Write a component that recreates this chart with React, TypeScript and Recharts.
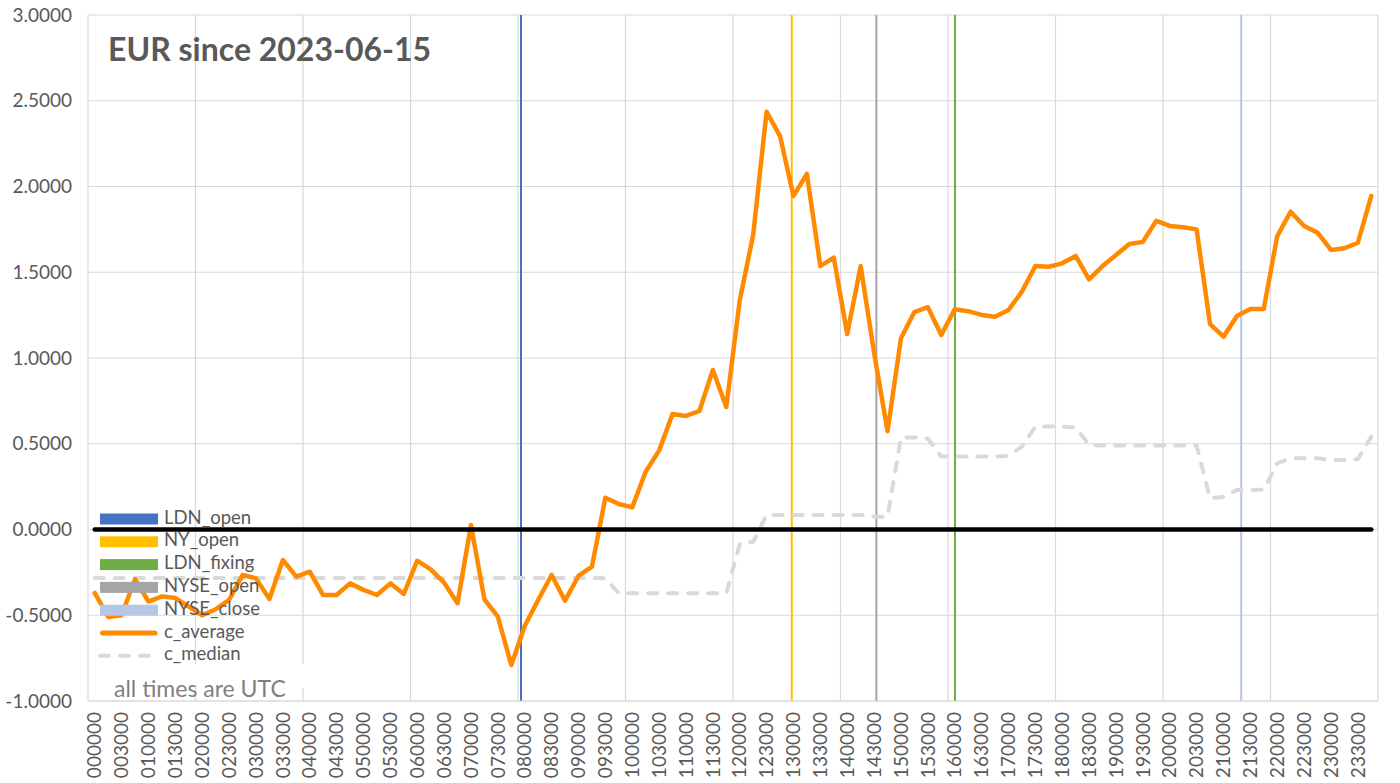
import React from 'react';
import { ComposedChart, Line, Bar, XAxis, YAxis, CartesianGrid, ReferenceLine } from 'recharts';

// 15-minute buckets, UTC
const times = [
  '000000', '001500', '003000', '004500', '010000', '011500', '013000', '014500',
  '020000', '021500', '023000', '024500', '030000', '031500', '033000', '034500',
  '040000', '041500', '043000', '044500', '050000', '051500', '053000', '054500',
  '060000', '061500', '063000', '064500', '070000', '071500', '073000', '074500',
  '080000', '081500', '083000', '084500', '090000', '091500', '093000', '094500',
  '100000', '101500', '103000', '104500', '110000', '111500', '113000', '114500',
  '120000', '121500', '123000', '124500', '130000', '131500', '133000', '134500',
  '140000', '141500', '143000', '144500', '150000', '151500', '153000', '154500',
  '160000', '161500', '163000', '164500', '170000', '171500', '173000', '174500',
  '180000', '181500', '183000', '184500', '190000', '191500', '193000', '194500',
  '200000', '201500', '203000', '204500', '210000', '211500', '213000', '214500',
  '220000', '221500', '223000', '224500', '230000', '231500', '233000', '234500',
];

const cAverage = [
  -0.37, -0.51, -0.5, -0.29, -0.42, -0.39, -0.4, -0.45,
  -0.5, -0.465, -0.41, -0.265, -0.285, -0.405, -0.178, -0.275,
  -0.246, -0.382, -0.382, -0.314, -0.352, -0.382, -0.314, -0.376,
  -0.182, -0.232, -0.31, -0.43, 0.026, -0.407, -0.508, -0.79,
  -0.563, -0.411, -0.265, -0.415, -0.271, -0.217, 0.185, 0.149,
  0.129, 0.337, 0.46, 0.673, 0.662, 0.691, 0.93, 0.714,
  1.335, 1.717, 2.436, 2.294, 1.945, 2.073, 1.536, 1.585,
  1.14, 1.536, 1.03, 0.573, 1.115, 1.268, 1.296, 1.134,
  1.284, 1.273, 1.251, 1.241, 1.28, 1.387, 1.536, 1.532,
  1.552, 1.595, 1.459, 1.536, 1.6, 1.665, 1.677, 1.8,
  1.77, 1.762, 1.75, 1.198, 1.124, 1.245, 1.286, 1.286,
  1.711, 1.853, 1.77, 1.731, 1.63, 1.64, 1.672, 1.945,
];

const cMedian = [
  -0.283, -0.283, -0.283, -0.283, -0.283, -0.283, -0.283, -0.283,
  -0.283, -0.283, -0.283, -0.283, -0.283, -0.283, -0.283, -0.283,
  -0.283, -0.283, -0.283, -0.283, -0.283, -0.283, -0.283, -0.283,
  -0.283, -0.283, -0.283, -0.283, -0.283, -0.283, -0.283, -0.283,
  -0.283, -0.283, -0.283, -0.283, -0.283, -0.283, -0.285, -0.372,
  -0.372, -0.372, -0.372, -0.372, -0.372, -0.372, -0.372, -0.372,
  -0.085, -0.072, 0.085, 0.085, 0.085, 0.085, 0.085, 0.085,
  0.085, 0.085, 0.075, 0.075, 0.537, 0.537, 0.53, 0.425,
  0.425, 0.425, 0.425, 0.425, 0.43, 0.483, 0.6, 0.6,
  0.6, 0.595, 0.493, 0.49, 0.49, 0.49, 0.49, 0.49,
  0.49, 0.49, 0.49, 0.182, 0.19, 0.23, 0.23, 0.233,
  0.386, 0.415, 0.415, 0.415, 0.405, 0.405, 0.41, 0.541,
];

const sessions = [
  { key: 'LDN_open', time: '080000', color: '#4472C4' },
  { key: 'NY_open', time: '130000', color: '#FFC000' },
  { key: 'LDN_fixing', time: '160000', color: '#70AD47' },
  { key: 'NYSE_open', time: '143000', color: '#A5A5A5' },
  { key: 'NYSE_close', time: '211500', color: '#B4C7E7' },
];

const yTicks = [-1, -0.5, 0, 0.5, 1, 1.5, 2, 2.5, 3];
const gridTicks = [0, 8, 16, 24, 32, 40, 48, 56, 64, 72, 80, 88, 96];

const Y_MIN = -1;
const Y_MAX = 3;
const FONT = 'Lato, "Open Sans", sans-serif';
const TEXT = '#595959';

const data = times.map((t, i) => {
  const row: Record<string, any> = { t, idx: i, c_average: cAverage[i], c_median: cMedian[i] };
  sessions.forEach((s) => {
    row[s.key] = s.time === t ? [Y_MIN, Y_MAX] : null;
  });
  return row;
});

const TimeTick = ({ x, y, payload }: any) => (
  <g transform={`translate(${x},${y})`}>
    <text
      transform="rotate(-90)"
      x={-11}
      y={0}
      dy="0.35em"
      textAnchor="end"
      fill={TEXT}
      fontSize={19}
      fontFamily={FONT}
    >
      {payload.value}
    </text>
  </g>
);

export default function App() {
  const legendRows = [
    ...sessions.map((s) => ({ label: s.key, kind: 'bar', color: s.color })),
    { label: 'c_average', kind: 'line', color: '#FF8A00' },
    { label: 'c_median', kind: 'dash', color: '#D9D9D9' },
  ];

  return (
    <div style={{ position: 'absolute', left: 0, top: 0, width: 1400, height: 783, background: '#fff' }}>
      <ComposedChart
        width={1400}
        height={783}
        data={data}
        margin={{ top: 15, right: 22, left: 0, bottom: 0 }}
        barGap={0}
      >
        <CartesianGrid xAxisId="grid" stroke="#D9D9D9" strokeWidth={1.2} />
        <XAxis
          dataKey="t"
          interval={1}
          tick={<TimeTick />}
          tickLine={false}
          tickSize={0}
          tickMargin={0}
          axisLine={{ stroke: '#D9D9D9' }}
          height={82}
        />
        <XAxis
          xAxisId="grid"
          dataKey="idx"
          type="number"
          domain={[0, 96]}
          ticks={gridTicks}
          allowDataOverflow
          hide
        />
        <YAxis
          domain={[Y_MIN, Y_MAX]}
          ticks={yTicks}
          tickFormatter={(v: number) => v.toFixed(4)}
          axisLine={false}
          tickLine={false}
          tickSize={0}
          tickMargin={16}
          width={88}
          tick={{ fill: TEXT, fontSize: 19, fontFamily: FONT }}
        />
        {sessions.map((s) => (
          <Bar key={s.key} dataKey={s.key} fill={s.color} barSize={2} isAnimationActive={false} />
        ))}
        <Line
          dataKey="c_median"
          stroke="#D9D9D9"
          strokeWidth={4}
          strokeDasharray="9 11"
          strokeLinecap="round"
          dot={false}
          activeDot={false}
          isAnimationActive={false}
        />
        <Line
          dataKey="c_average"
          stroke="#FF8A00"
          strokeWidth={4.5}
          strokeLinecap="round"
          strokeLinejoin="round"
          dot={false}
          activeDot={false}
          isAnimationActive={false}
        />
        <ReferenceLine
          segment={[{ x: times[0], y: 0 }, { x: times[times.length - 1], y: 0 }]}
          stroke="#000"
          strokeWidth={4.5}
          strokeLinecap="round"
        />
      </ComposedChart>

      <svg
        width={1400}
        height={783}
        style={{ position: 'absolute', left: 0, top: 0, pointerEvents: 'none' }}
      >
        <text x={108} y={61} fontFamily={FONT} fontWeight={700} fontSize={32} fill={TEXT}>
          EUR since 2023-06-15
        </text>
        <rect x={92} y={664} width={214} height={24} fill="#fff" />
        {legendRows.map((r, i) => {
          const cy = 519 + i * 22.8;
          return (
            <g key={r.label}>
              {r.kind === 'bar' && <rect x={100} y={cy - 5.5} width={58} height={11} fill={r.color} />}
              {r.kind === 'line' && (
                <line x1={102.5} x2={155} y1={cy} y2={cy} stroke={r.color} strokeWidth={5} strokeLinecap="round" />
              )}
              {r.kind === 'dash' && (
                <line
                  x1={100}
                  x2={156}
                  y1={cy}
                  y2={cy}
                  stroke={r.color}
                  strokeWidth={4}
                  strokeDasharray="9 11"
                  strokeLinecap="round"
                />
              )}
              <text x={164} y={cy + 4.5} fontFamily={FONT} fontSize={18.5} fill={TEXT}>
                {r.label}
              </text>
            </g>
          );
        })}
        <text x={114} y={697} fontFamily={FONT} fontSize={23} fill="#7F7F7F">
          all times are UTC
        </text>
      </svg>
    </div>
  );
}
